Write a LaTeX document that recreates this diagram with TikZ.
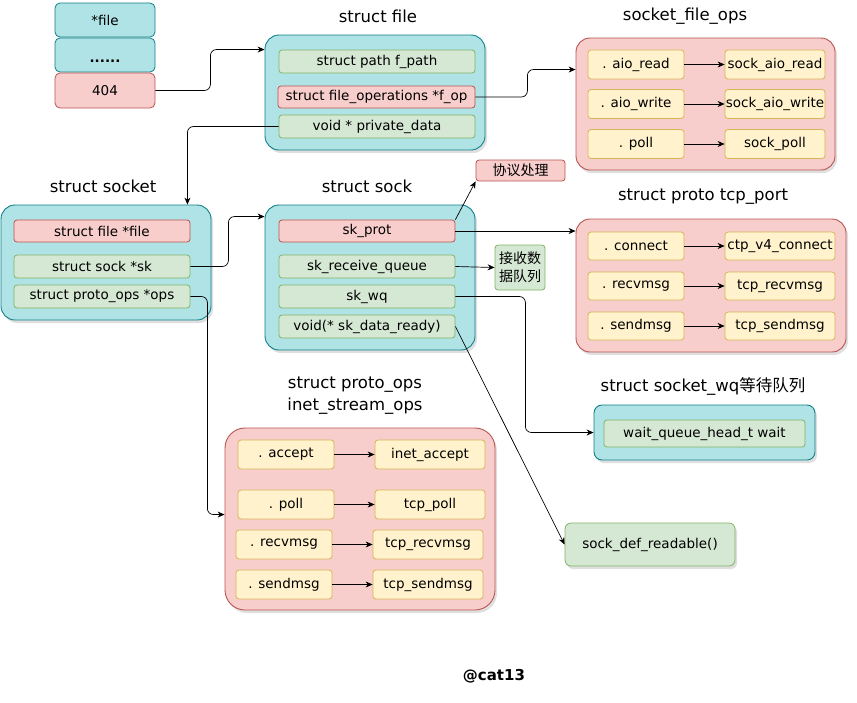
\documentclass[tikz,border=0pt]{standalone}
\usepackage{fontspec}
\setmainfont{DejaVu Sans}
\newfontfamily\cjk{Noto Sans CJK SC}
\usetikzlibrary{arrows.meta,positioning,shadows}
\definecolor{CyanFill}{HTML}{B0E3E6}
\definecolor{CyanLine}{HTML}{0E8088}
\definecolor{RedFill}{HTML}{F8CECC}
\definecolor{RedLine}{HTML}{B85450}
\definecolor{GreenFill}{HTML}{D5E8D4}
\definecolor{GreenLine}{HTML}{82B366}
\definecolor{YellowFill}{HTML}{FFF2CC}
\definecolor{YellowLine}{HTML}{D6B656}
\tikzset{
  fld/.style={draw,line width=0.8pt,rounded corners=3pt,inner sep=0pt,font=\fontsize{13.5}{15}\selectfont},
  gfld/.style={fld,fill=GreenFill,draw=GreenLine},
  rfld/.style={fld,fill=RedFill,draw=RedLine},
  yfld/.style={fld,fill=YellowFill,draw=YellowLine},
  cfld/.style={fld,fill=CyanFill,draw=CyanLine,rounded corners=5pt},
  cont/.style={draw,line width=0.9pt,rounded corners=14pt,drop shadow={shadow xshift=2pt,shadow yshift=-3pt,opacity=0.25}},
  ccont/.style={cont,fill=CyanFill,draw=CyanLine},
  rcont/.style={cont,fill=RedFill,draw=RedLine},
  ttl/.style={font=\fontsize{16.5}{22}\selectfont,align=center},
  link/.style={draw,line width=0.7pt,rounded corners=6pt,-{Stealth[length=7pt,width=6pt]}}
}
\begin{document}
\begin{tikzpicture}[x=1pt,y=-1pt]
\useasboundingbox (0,0) rectangle (857,702);
% fd table
\node[cfld,minimum width=100,minimum height=34] (fstar) at (105,20) {*file};
\node[cfld,minimum width=100,minimum height=34,text height=14pt,text depth=0pt,font=\bfseries\fontsize{13.5}{15}\selectfont] (fdots) at (105,55) {......};
\node[rfld,rounded corners=5pt,minimum width=100,minimum height=35] (f404) at (105,90.5) {404};
% struct file
\node[ttl] (tfile) at (378,16) {struct file};
\node[ccont,minimum width=220,minimum height=115] (filebox) at (375,92.5) {};
\node[gfld,minimum width=196,minimum height=23] (fpath) at (377,61.5) {struct path f\_path};
\node[rfld,minimum width=197,minimum height=22] (fop) at (376.5,97) {struct file\_operations *f\_op};
\node[gfld,minimum width=196,minimum height=23] (pdata) at (377,126.5) {void * private\_data};
% socket_file_ops
\node[ttl] (tsfops) at (685,16) {socket\_file\_ops};
\node[rcont,minimum width=259,minimum height=132] (sfops) at (705.5,104) {};
\node[yfld,minimum width=96,minimum height=29] (aioread) at (636,64.5) {. aio\_read};
\node[yfld,minimum width=100,minimum height=29] (saioread) at (775,64.5) {sock\_aio\_read};
\node[yfld,minimum width=96,minimum height=29] (aiowrite) at (636,104) {. aio\_write};
\node[yfld,minimum width=100,minimum height=29] (saiowrite) at (775,104) {sock\_aio\_write};
\node[yfld,minimum width=96,minimum height=29] (fpoll) at (636,144) {. poll};
\node[yfld,minimum width=100,minimum height=29] (spoll) at (775,144) {sock\_poll};
% struct socket
\node[ttl] (tsocket) at (103,186) {struct socket};
\node[ccont,minimum width=210,minimum height=115] (socket) at (106,262.5) {};
\node[rfld,minimum width=176,minimum height=22] (sfile) at (102,231) {struct file *file};
\node[gfld,minimum width=176,minimum height=23] (sk) at (102,266.5) {struct sock *sk};
\node[gfld,minimum width=176,minimum height=23] (ops) at (102,296.5) {struct proto\_ops *ops};
% struct sock
\node[ttl] (tsock) at (367,186) {struct sock};
\node[ccont,minimum width=210,minimum height=145] (sock) at (370,277.5) {};
\node[rfld,minimum width=176,minimum height=22] (skprot) at (367,231) {sk\_prot};
\node[gfld,minimum width=176,minimum height=23] (skrq) at (367,266.5) {sk\_receive\_queue};
\node[gfld,minimum width=176,minimum height=23] (skwq) at (367,296.5) {sk\_wq};
\node[gfld,minimum width=176,minimum height=23] (sdr) at (367,326.5) {void(* sk\_data\_ready)};
\node[rfld,minimum width=89,minimum height=21,font=\cjk\fontsize{14}{16}\selectfont] (xieyi) at (520.5,170.5) {协议处理};
\node[gfld,minimum width=50,minimum height=45,align=center,font=\cjk\fontsize{14}{18}\selectfont] (rqbox) at (520,267.5) {接收数\\据队列};
% struct proto tcp_port
\node[ttl] (ttcp) at (703,197) {struct proto tcp\_port};
\node[rcont,minimum width=270,minimum height=133] (tcpport) at (711,285.5) {};
\node[yfld,minimum width=96,minimum height=28] (pconn) at (636,246) {. connect};
\node[yfld,minimum width=110,minimum height=28] (v4conn) at (780,246) {ctp\_v4\_connect};
\node[yfld,minimum width=96,minimum height=28] (precv) at (636,286) {. recvmsg};
\node[yfld,minimum width=110,minimum height=28] (trecv) at (780,286) {tcp\_recvmsg};
\node[yfld,minimum width=96,minimum height=28] (psend) at (636,326) {. sendmsg};
\node[yfld,minimum width=110,minimum height=28] (tsend) at (780,326) {tcp\_sendmsg};
% struct socket_wq
\node[ttl] (twq) at (703,386) {struct socket\_wq{\cjk 等待队列}};
\node[ccont,rounded corners=8pt,minimum width=221,minimum height=55] (wqbox) at (704.5,432.5) {};
\node[gfld,minimum width=201,minimum height=27] (wait) at (704.5,433.5) {wait\_queue\_head\_t wait};
% inet_stream_ops
\node[ttl] (tinet) at (355,396) {struct proto\_ops\\inet\_stream\_ops};
\node[rcont,rounded corners=20pt,minimum width=270,minimum height=182] (inetops) at (360,519) {};
\node[yfld,minimum width=96,minimum height=29] (oaccept) at (286,454.5) {. accept};
\node[yfld,minimum width=110,minimum height=29] (iaccept) at (430,454.5) {inet\_accept};
\node[yfld,minimum width=96,minimum height=29] (opoll) at (286,504.5) {. poll};
\node[yfld,minimum width=110,minimum height=29] (tpoll) at (430,504.5) {tcp\_poll};
\node[yfld,minimum width=96,minimum height=29] (orecv) at (284,544.5) {. recvmsg};
\node[yfld,minimum width=110,minimum height=29] (irecv) at (428,544.5) {tcp\_recvmsg};
\node[yfld,minimum width=96,minimum height=29] (osend) at (284,584.5) {. sendmsg};
\node[yfld,minimum width=110,minimum height=29] (isend) at (428,584.5) {tcp\_sendmsg};
\node[gfld,rounded corners=6pt,minimum width=170,minimum height=43,drop shadow={shadow xshift=2pt,shadow yshift=-3pt,opacity=0.25}] (readable) at (650,544.5) {sock\_def\_readable()};
\node[font=\bfseries\fontsize{15}{17}\selectfont] (sign) at (494,676) {@cat13};
% links
\draw[link] (f404.east) -- ++(55,0) |- ([yshift=-15pt]filebox.north west);
\draw[link] (fop.east) -- ++(52,0) |- ([yshift=-32pt]sfops.north west);
\draw[link] (pdata.west) -| ([xshift=-24pt]socket.north east);
\draw[link] (sk.east) -- ++(38,0) |- ([yshift=-12pt]sock.north west);
\draw[link] (ops.east) -- ++(17,0) |- ([yshift=-87pt]inetops.north west);
\draw[link] (skprot.north east) -- (xieyi.south west);
\draw[link] (skprot.east) -- (tcpport.west |- skprot.east);
\draw[link] (skrq.east) -- (rqbox.west);
\draw[link] (skwq.east) -- ++(70,0) |- (wqbox.west);
\draw[link] (sdr.east) -- (readable.west);
\foreach \a/\b in {aioread/saioread,aiowrite/saiowrite,fpoll/spoll,pconn/v4conn,precv/trecv,psend/tsend,oaccept/iaccept,opoll/tpoll,orecv/irecv,osend/isend}
  \draw[link] (\a.east) -- (\b.west);
\end{tikzpicture}
\end{document}
